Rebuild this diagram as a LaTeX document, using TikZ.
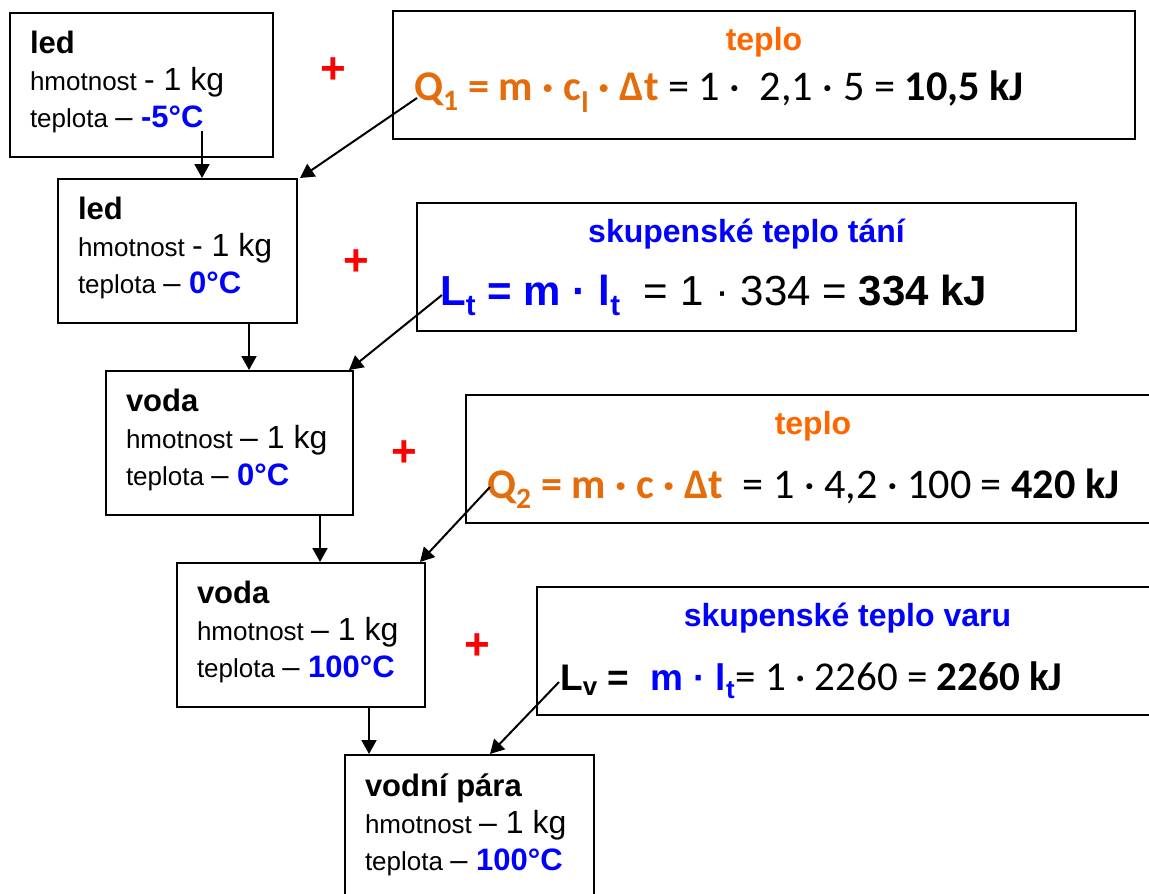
\documentclass[tikz,border=0pt]{standalone}
\usepackage{fontspec}
\setmainfont{Liberation Sans}
\newfontfamily\calibfont{Carlito}
\usetikzlibrary{arrows.meta,calc}
\definecolor{heatorange}{HTML}{E46C0A}
\definecolor{headorange}{HTML}{FF6600}
\definecolor{latentblue}{HTML}{0000FF}
\definecolor{plusred}{HTML}{FF0000}
\newcommand\fsz[2]{\fontsize{#1}{#2}\selectfont}
% normal word spaces inside left-aligned nodes
\newcommand\plainspaces{\spaceskip=0pt\relax\xspaceskip=0pt\relax}
% the three lines of a state box
\newcommand\statetext[3]{\plainspaces{\fsz{31}{37}\bfseries #1}\\
  hmotnost {\fsz{32}{37}#2 1 kg}\\
  teplota {\fsz{31}{37}– \bfseries\color{latentblue}#3}\rule[-10.5pt]{0pt}{1pt}}

\begin{document}
\begin{tikzpicture}[x=1pt,y=-1pt,
  statebox/.style={draw, line width=2pt, rectangle, anchor=north west,
    inner xsep=20pt, inner ysep=0pt, align=left, minimum height=144pt,
    font=\fsz{26}{37}},
  formbox/.style={draw, line width=2pt, rectangle, anchor=north west,
    inner sep=0pt, minimum height=128pt},
  heading/.style={anchor=base, inner sep=0pt, font=\bfseries\fsz{32}{36}},
  formula/.style={anchor=base west, inner sep=0pt},
  plus/.style={inner sep=0pt, text=plusred, font=\bfseries\fsz{44}{46}},
  flow/.style={line width=2pt, -{Triangle[length=14pt,width=15pt]}}]
\useasboundingbox (0,0) rectangle (1149,894);
\clip (0,0) rectangle (1149,894);

% states of the water, top to bottom
\node[statebox, minimum width=263pt, text width=223pt] (b1) at (9,12)
  {\statetext{led}{-}{-5°C}};
\node[statebox, minimum width=239pt, text width=199pt] (b2) at (57,178)
  {\statetext{led}{-}{0°C}};
\node[statebox, minimum width=247pt, text width=207pt] (b3) at (105,370)
  {\statetext{voda}{–}{0°C}};
\node[statebox, minimum width=248pt, text width=208pt] (b4) at (176,562)
  {\statetext{voda}{–}{100°C}};
\node[statebox, minimum width=249pt, text width=209pt] (b5) at (344,754)
  {\statetext{vodní pára}{–}{100°C}};

% energy needed for each step
\node[formbox, minimum width=742pt] (f1) at (392,10) {};
\node[heading, text=headorange] (h1) at ($(f1.north)+(0,40)$) {teplo};
\node[formula, font=\calibfont\fsz{42.3}{46}] (q1) at ($(f1.north west)+(22,90)$)
  {{\bfseries\color{heatorange}Q\textsubscript{1} = m · c\textsubscript{l} · Δt} = 1 ·\ \ 2,1 · 5 = \textbf{10,5 kJ}};

\node[formbox, minimum width=659pt] (f2) at (416,202) {};
\node[heading, text=latentblue] (h2) at ($(f2.north)+(0,40)$) {skupenské teplo tání};
\node[formula, font=\fsz{42}{46}] (q2) at ($(f2.north west)+(24,103)$)
  {{\bfseries\color{latentblue}L\textsubscript{t} = m · l\textsubscript{t}}\ \ = 1 · 334 = \textbf{334 kJ}};

\node[formbox, minimum width=694pt] (f3) at (465,394) {};
\node[heading, text=headorange] (h3) at ($(f3.north)+(0,40)$) {teplo};
\node[formula, font=\calibfont\fsz{42.2}{46}] (q3) at ($(f3.north west)+(22,104)$)
  {{\bfseries\color{heatorange}Q\textsubscript{2} = m · c · Δt}\ \ = 1 · 4,2 · 100 = \textbf{420 kJ}};

\node[formbox, minimum width=621pt] (f4) at (536,586) {};
\node[heading, text=latentblue] (h4) at ($(f4.north)+(0,40)$) {skupenské teplo varu};
\node[formula, font=\calibfont\fsz{41}{46}] (q4) at ($(f4.north west)+(24,104)$)
  {{\rmfamily\bfseries\fsz{37}{46}L\textsubscript{v} =\ \ \color{latentblue}m · l\textsubscript{t}}= 1 · 2260 = \textbf{2260 kJ}};

% plus signs between state and energy
\node[plus] (p1) at (333,71) {+};
\node[plus] (p2) at (356,263) {+};
\node[plus] (p3) at (404,454) {+};
\node[plus] (p4) at (477,647) {+};

% transitions between states
\coordinate (t1) at (202,131);
\draw[flow] (t1) -- (t1 |- b2.north);
\draw[flow] (249,0 |- b2.south) -- (249,0 |- b3.north);
\draw[flow] (320,0 |- b3.south) -- (320,0 |- b4.north);
\draw[flow] (369,0 |- b4.south) -- (369,0 |- b5.north);

% energy flowing into the next state
\coordinate (s1) at ($(q1.base west)+(3,-2)$);
\coordinate (s2) at ($(q2.base west)+(2,-10)$);
\coordinate (s3) at ($(q3.base west)+(3,-11)$);
\coordinate (s4) at ($(q4.base west)+(-1,-8)$);
\draw[flow] (s1) -- ($(b2.north east)+(2,0)$);
\draw[flow] (s2) -- ($(b3.north east)+(-5,0)$);
\draw[flow] (s3) -- ($(b4.north east)+(-6,0)$);
\draw[flow] (s4) -- (490,0 |- b5.north);
\end{tikzpicture}
\end{document}
